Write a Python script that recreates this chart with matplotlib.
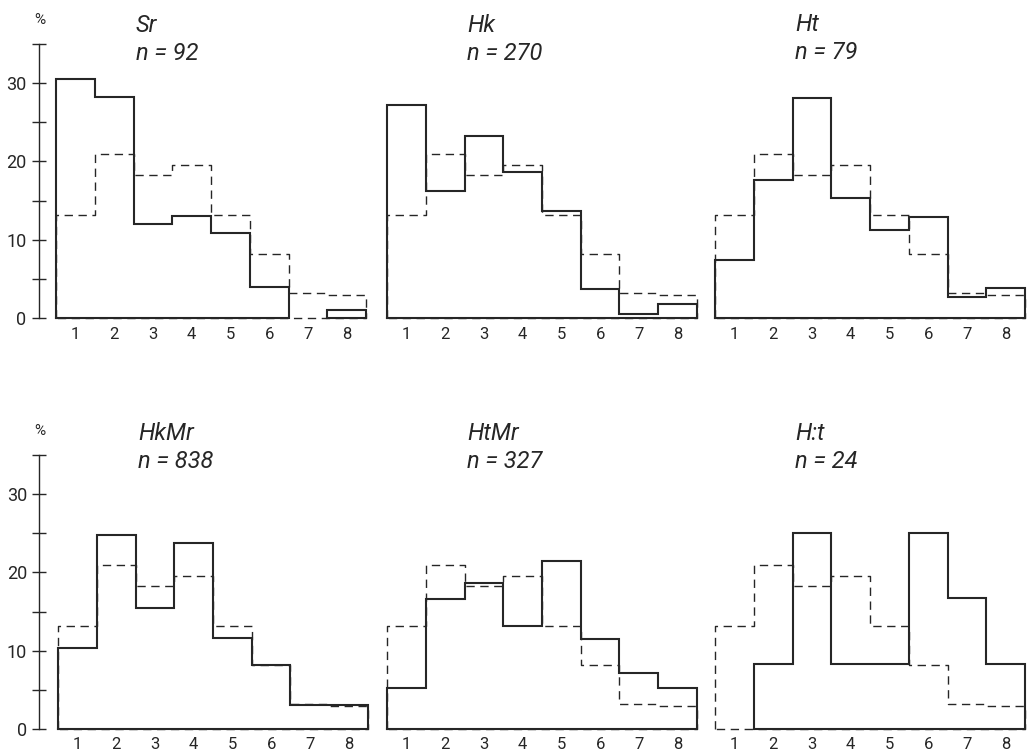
import numpy as np
import matplotlib
matplotlib.use("Agg")
import matplotlib.pyplot as plt

# bins 1..8, percent per bin
bins = [1, 2, 3, 4, 5, 6, 7, 8]
titles = ["Sr", "Hk", "Ht", "HkMr", "HtMr", "H:t"]
counts = [92, 270, 79, 838, 327, 24]

# dashed reference distribution (same in every panel)
reference = [13.1, 20.9, 18.2, 19.6, 13.1, 8.2, 3.2, 3.0]

sr = [30.5, 28.2, 12.0, 13.0, 10.9, 4.0, 0.0, 1.0]
hk = [27.2, 16.2, 23.2, 18.7, 13.7, 3.7, 0.5, 1.8]
ht = [7.4, 17.6, 28.1, 15.3, 11.3, 12.9, 2.7, 3.8]
hkmr = [10.4, 24.8, 15.5, 23.7, 11.6, 8.2, 3.1, 3.1]
htmr = [5.3, 16.6, 18.6, 13.2, 21.5, 11.5, 7.2, 5.3]
h_t = [0.0, 8.3, 25.0, 8.3, 8.3, 25.0, 16.7, 8.3]
series = [sr, hk, ht, hkmr, htmr, h_t]

FONT = ["Roboto", "DejaVu Sans"]
INK = "#262626"

W, H = 1027, 755
fig = plt.figure(figsize=(W / 100, H / 100), dpi=100)


def outline(ax, vals, **kw):
    """Closed histogram outline; zero bins break it into separate boxes."""
    vals = np.asarray(vals, float)
    edges = np.arange(len(vals) + 1) + 0.5
    runs, run = [], []
    for i, v in enumerate(vals):
        if v > 0:
            run.append(i)
        elif run:
            runs.append(run)
            run = []
    if run:
        runs.append(run)
    for r in runs:
        xs, ys = [edges[r[0]]], [0]
        for i in r:
            xs += [edges[i], edges[i + 1]]
            ys += [vals[i], vals[i]]
        xs += [edges[r[-1] + 1], edges[r[0]]]
        ys += [0, 0]
        ax.plot(xs, ys, clip_on=False, solid_joinstyle="miter", **kw)


# panel geometry in pixels: left edge of bin 1, baseline y
lefts = [56, 387, 715, 58, 387, 715]
base_y = [318, 318, 318, 729, 729, 729]
title_y = [32, 32, 31, 440, 440, 440]
px_per_unit = 7.83
width = 310

for k in range(6):
    ax = fig.add_axes([lefts[k] / W, (H - base_y[k]) / H,
                       width / W, 35 * px_per_unit / H])
    ax.set_xlim(0.5, 8.5)
    ax.set_ylim(0, 35)
    ax.patch.set_alpha(0)
    for s in ["top", "right", "bottom"]:
        ax.spines[s].set_visible(False)

    outline(ax, reference, color=INK, lw=1.0, linestyle=(0, (6, 4)))
    outline(ax, series[k], color=INK, lw=1.5)

    ax.set_xticks(bins)
    ax.set_xticklabels([str(b) for b in bins], family=FONT,
                       fontsize=12, color=INK)
    ax.tick_params(axis="x", length=0, pad=6.5 if k < 3 else 5.5)

    if k % 3 == 0:
        ax.spines["left"].set_position(("outward", 12.5 if k == 0 else 13.5))
        ax.spines["left"].set_linewidth(1.0)
        ax.spines["left"].set_color(INK)
        ax.set_yticks([0, 10, 20, 30])
        ax.set_yticks([5, 15, 25, 35], minor=True)
        ax.set_yticklabels(["0", "10", "20", "30"], family=FONT,
                           fontsize=13, color=INK)
        ax.tick_params(axis="y", which="both", direction="inout",
                       length=9.5, width=1.0, color=INK, pad=4)
        fig.text(40 / W, 1 - (20 if k == 0 else 431) / H, "%",
                 ha="center", va="center", fontsize=11, color=INK,
                 family=FONT)
    else:
        ax.spines["left"].set_visible(False)
        ax.set_yticks([])

    tx = (lefts[k] + 80) / W
    fig.text(tx, 1 - title_y[k] / H, titles[k], fontsize=17,
             style="italic", family=FONT, color=INK,
             ha="left", va="baseline")
    fig.text(tx, 1 - (title_y[k] + 28) / H, f"n = {counts[k]}", fontsize=17,
             style="italic", family=FONT, color=INK,
             ha="left", va="baseline")

fig.savefig("out.png", dpi=100, facecolor="white")
